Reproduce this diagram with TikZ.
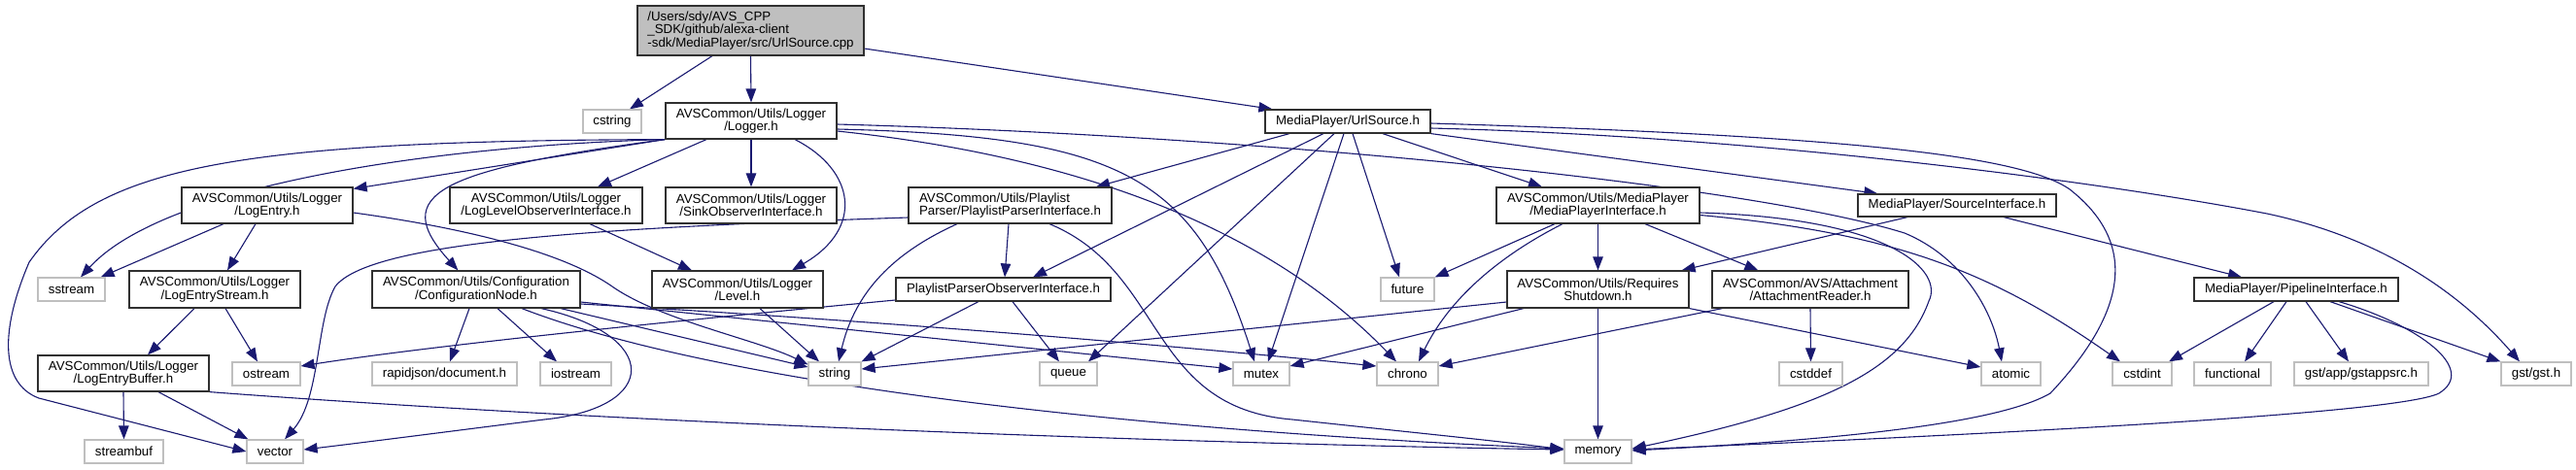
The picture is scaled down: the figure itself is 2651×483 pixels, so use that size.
\documentclass[tikz,border=0pt]{standalone}
\usepackage{fontspec}
\setmainfont{Liberation Sans}
\usetikzlibrary{arrows.meta,calc}
\definecolor{edgec}{HTML}{191970}
\definecolor{sysc}{HTML}{BFBFBF}
\definecolor{rootfill}{HTML}{BFBFBF}
\definecolor{boxc}{HTML}{303030}
\newcommand\dfont{\fontsize{13.3}{13.4}\selectfont}
\pgfdeclarelayer{bg}
\pgfdeclarelayer{paper}
\pgfsetlayers{paper,bg,main}
\begin{document}
\begin{tikzpicture}[x=1pt,y=-1pt,
  box/.style={draw=boxc, line width=1.2pt, fill=white, inner sep=0pt, font=\dfont, align=center},
  sysbox/.style={draw=sysc, line width=1.2pt, fill=white, inner sep=0pt, font=\dfont},
  rootbox/.style={box, fill=rootfill, align=left},
  e/.style={draw=edgec, line width=1.1pt, -{Triangle[length=14pt,width=10.5pt]}}
]
\begin{pgfonlayer}{paper}
\fill[white] (0,0) rectangle (2651,483);
\end{pgfonlayer}
\useasboundingbox (0,0) rectangle (2651,483);

% nodes
\node[rootbox, minimum width=233, minimum height=51] (root) at (772.5,31.5) {/Users/sdy/AVS\_CPP\\\_SDK/github/alexa-client\\-sdk/MediaPlayer/src/UrlSource.cpp};
\node[sysbox, minimum width=60, minimum height=24] (cstring) at (630,125) {cstring};
\node[box, minimum width=176, minimum height=37] (logger) at (773,124.5) {AVSCommon/Utils/Logger\\/Logger.h};
\node[box, minimum width=170, minimum height=24] (urlsrch) at (1387,125) {MediaPlayer/UrlSource.h};
\node[box, minimum width=176, minimum height=37] (logentry) at (275,211.5) {AVSCommon/Utils/Logger\\/LogEntry.h};
\node[box, minimum width=198, minimum height=37] (loglevelobs) at (562,211.5) {AVSCommon/Utils/Logger\\/LogLevelObserverInterface.h};
\node[box, minimum width=176, minimum height=37] (sinkobs) at (773,211.5) {AVSCommon/Utils/Logger\\/SinkObserverInterface.h};
\node[box, align=left, minimum width=209, minimum height=37] (ppi) at (1039.5,211.5) {AVSCommon/Utils/Playlist\\Parser/PlaylistParserInterface.h};
\node[box, minimum width=209, minimum height=37] (mpi) at (1644.5,211.5) {AVSCommon/Utils/MediaPlayer\\/MediaPlayerInterface.h};
\node[box, minimum width=204, minimum height=23] (srcif) at (2014,211.5) {MediaPlayer/SourceInterface.h};
\node[sysbox, minimum width=69, minimum height=24] (sstream) at (73.5,298) {sstream};
\node[box, minimum width=176, minimum height=38] (logentrystream) at (221,298) {AVSCommon/Utils/Logger\\/LogEntryStream.h};
\node[box, minimum width=214, minimum height=38] (confnode) at (490,298) {AVSCommon/Utils/Configuration\\/ConfigurationNode.h};
\node[box, minimum width=176, minimum height=38] (level) at (759,298) {AVSCommon/Utils/Logger\\/Level.h};
\node[box, minimum width=221, minimum height=24] (ppo) at (1032.5,298) {PlaylistParserObserverInterface.h};
\node[sysbox, minimum width=55, minimum height=24] (future) at (1448.5,298) {future};
\node[box, minimum width=187, minimum height=38] (reqshut) at (1644.5,298) {AVSCommon/Utils/Requires\\Shutdown.h};
\node[box, minimum width=202, minimum height=38] (attach) at (1863,298) {AVSCommon/AVS/Attachment\\/AttachmentReader.h};
\node[box, minimum width=210, minimum height=24] (pipeline) at (2363,298) {MediaPlayer/PipelineInterface.h};
\node[box, minimum width=176, minimum height=37] (logentrybuffer) at (127,384.5) {AVSCommon/Utils/Logger\\/LogEntryBuffer.h};
\node[sysbox, minimum width=70, minimum height=24] (ostream) at (274,385) {ostream};
\node[sysbox, minimum width=149, minimum height=24] (rapidjson) at (457.5,385) {rapidjson/document.h};
\node[sysbox, minimum width=73, minimum height=24] (iostream) at (592.5,385) {iostream};
\node[sysbox, minimum width=54, minimum height=24] (string) at (859,385) {string};
\node[sysbox, minimum width=59, minimum height=24] (queue) at (1099.5,385) {queue};
\node[sysbox, minimum width=58, minimum height=24] (mutex) at (1298,385) {mutex};
\node[sysbox, minimum width=63, minimum height=24] (chrono) at (1448.5,385) {chrono};
\node[sysbox, minimum width=65, minimum height=24] (cstddef) at (1863.5,385) {cstddef};
\node[sysbox, minimum width=61, minimum height=24] (atomic) at (2069.5,385) {atomic};
\node[sysbox, minimum width=61, minimum height=24] (cstdint) at (2204.5,385) {cstdint};
\node[sysbox, minimum width=79, minimum height=24] (functional) at (2297.5,385) {functional};
\node[sysbox, minimum width=138, minimum height=24] (gstappsrc) at (2430,385) {gst/app/gstappsrc.h};
\node[sysbox, minimum width=72, minimum height=24] (gst) at (2610,385) {gst/gst.h};
\node[sysbox, minimum width=81, minimum height=24] (streambuf) at (127.5,465) {streambuf};
\node[sysbox, minimum width=58, minimum height=24] (vector) at (283,465) {vector};
\node[sysbox, minimum width=69, minimum height=24] (memory) at (1644.5,465) {memory};

\begin{pgfonlayer}{bg}
% root
\draw[e] ($(root.south)+(-39.5,0)$) -- ($(cstring.north)+(18,0)$);
\draw[e] (root.south) -- (logger.north);
\draw[e] ($(root.east)+(0,18.5)$) -- ($(urlsrch.north west)+(8,0)$);
% Logger.h
\draw[e] (logger.south west) -- ($(logentry.north east)+(0,2)$);
\draw[e] (logger.south west) .. controls (450,150) and (170,190) .. ($(sstream.north)+(9.5,0)$);
\draw[e] (logger.south west) .. controls (250,145) and (100,170) .. (30,270) .. controls (0,340) and (0,395) .. (40,410) -- (vector.west);
\draw[e] (logger.south west) .. controls (450,175) and (400,200) .. ($(confnode.north west)+(89,0)$);
\draw[e] ($(logger.south)+(-46,0)$) -- ($(loglevelobs.north)+(53,0)$);
\draw[e] (logger.south) -- (sinkobs.north);
\draw[e] ($(logger.south)+(45,0)$) .. controls (880,175) and (890,235) .. ($(level.north)+(56,0)$);
\draw[e] ($(logger.east)+(0,8.5)$) .. controls (1150,140) and (1230,180) .. ($(mutex.north)+(-7,0)$);
\draw[e] ($(logger.east)+(0,10.5)$) .. controls (1100,160) and (1300,230) .. ($(chrono.north)+(-11.5,0)$);
\draw[e] ($(logger.east)+(0,3.5)$) .. controls (1300,140) and (1800,190) .. (1960,240) .. controls (2020,265) and (2050,320) .. ($(atomic.north)+(-9.5,0)$);
% LogEntry.h
\draw[e] ($(logentry.south)+(-45,0)$) -- ($(sstream.north east)+(-5,0)$);
\draw[e] ($(logentry.south)+(-12,0)$) -- ($(logentrystream.north)+(13,0)$);
\draw[e] ($(logentry.east)+(0,7.5)$) .. controls (480,235) and (580,260) .. (630,295) .. controls (680,330) and (780,350) .. ($(string.north west)+(0,3)$);
% LogEntryStream / Buffer
\draw[e] ($(logentrystream.south)+(-21,0)$) -- ($(logentrybuffer.north)+(25,0)$);
\draw[e] ($(logentrystream.south)+(11,0)$) -- ($(ostream.north)+(-9,0)$);
\draw[e] (logentrybuffer.south) -- (streambuf.north);
\draw[e] ($(logentrybuffer.south)+(36,0)$) -- ($(vector.north west)+(2,0)$);
\draw[e] (logentrybuffer.south east) .. controls (700,440) and (1300,458) .. ($(memory.west)+(0,-2)$);
% LogLevelObserver, Level
\draw[e] ($(loglevelobs.south)+(45,0)$) -- ($(level.north)+(-47,0)$);
\draw[e] ($(level.south)+(23,0)$) -- ($(string.north)+(-16,0)$);
% ConfigurationNode
\draw[e] ($(confnode.south)+(-7,0)$) -- ($(rapidjson.north)+(5.5,0)$);
\draw[e] ($(confnode.south)+(22,0)$) -- ($(iostream.north)+(-19.5,0)$);
\draw[e] ($(confnode.south)+(87,0)$) -- ($(string.west)+(0,-7)$);
\draw[e] ($(confnode.east)+(0,13)$) -- ($(mutex.west)+(0,-5)$);
\draw[e] ($(confnode.east)+(0,15)$) .. controls (900,330) and (1200,355) .. ($(chrono.west)+(0,-8)$);
\draw[e] ($(confnode.south)+(67,0)$) .. controls (680,345) and (680,420) .. (560,432) .. controls (480,442) and (380,455) .. ($(vector.east)+(0,-2)$);
\draw[e] ($(confnode.south)+(47,0)$) .. controls (750,400) and (1200,445) .. ($(memory.west)+(0,-3)$);
% PlaylistParserInterface
\draw[e] ($(ppi.south)+(-1.5,0)$) -- ($(ppo.north)+(1.5,0)$);
\draw[e] ($(ppi.south)+(-54.5,0)$) .. controls (920,260) and (880,300) .. ($(string.north)+(4,0)$);
\draw[e] ($(ppi.south)+(40.5,0)$) .. controls (1200,280) and (1180,420) .. (1330,432) .. controls (1450,445) and (1550,455) .. ($(memory.west)+(0,-2)$);
\draw[e] ($(ppi.west)+(0,12.5)$) .. controls (600,235) and (380,250) .. (345,295) .. controls (325,330) and (330,410) .. ($(vector.north)+(10,0)$);
% PlaylistParserObserverInterface
\draw[e] ($(ppo.south)+(-25.5,0)$) -- (string.north east);
\draw[e] ($(ppo.south)+(9.5,0)$) -- ($(queue.north)+(-9.5,0)$);
\draw[e] ($(ppo.west)+(0,11)$) .. controls (700,330) and (450,355) .. ($(ostream.east)+(0,-8)$);
% UrlSource.h
\draw[e] ($(urlsrch.south)+(-60,0)$) -- ($(ppi.north)+(88.5,0)$);
\draw[e] ($(urlsrch.south)+(-25,0)$) -- ($(ppo.north)+(30.5,0)$);
\draw[e] ($(urlsrch.south)+(-14,0)$) -- ($(queue.north)+(20.5,0)$);
\draw[e] ($(urlsrch.south)+(-4,0)$) -- ($(mutex.north)+(7,0)$);
\draw[e] ($(urlsrch.south)+(5,0)$) -- ($(future.north)+(-8.5,0)$);
\draw[e] ($(urlsrch.south)+(36,0)$) -- ($(mpi.north)+(-57.5,0)$);
\draw[e] (urlsrch.south east) -- ($(srcif.north west)+(21,0)$);
\draw[e] ($(urlsrch.east)+(0,7)$) .. controls (1800,140) and (2150,185) .. (2333,220) .. controls (2450,245) and (2530,300) .. ($(gst.north)+(-17,0)$);
\draw[e] ($(urlsrch.east)+(0,2)$) .. controls (1900,140) and (2080,160) .. (2130,195) .. controls (2200,250) and (2190,320) .. (2110,405) .. controls (2050,440) and (1850,455) .. ($(memory.east)+(0,-1)$);
% MediaPlayerInterface
\draw[e] ($(mpi.south)+(-44.5,0)$) -- (future.north east);
\draw[e] ($(mpi.south)+(-36.5,0)$) .. controls (1540,265) and (1490,310) .. ($(chrono.north)+(11.5,0)$);
\draw[e] (mpi.south) -- (reqshut.north);
\draw[e] ($(mpi.south)+(48.5,0)$) -- ($(attach.north west)+(48,0)$);
\draw[e] ($(mpi.east)+(0,7.5)$) .. controls (1950,225) and (2000,280) .. (1985,310) .. controls (1960,380) and (1880,420) .. ($(memory.east)+(0,-3)$);
\draw[e] ($(mpi.east)+(0,10)$) .. controls (1950,240) and (2050,280) .. ($(cstdint.north)+(-22.5,0)$);
% RequiresShutdown
\draw[e] ($(reqshut.west)+(0,13)$) -- ($(string.east)+(0,-5)$);
\draw[e] ($(reqshut.south)+(-76.5,0)$) -- ($(mutex.east)+(0,-8)$);
\draw[e] (reqshut.south) -- (memory.north);
\draw[e] (reqshut.south east) -- ($(atomic.west)+(0,-7)$);
% SourceInterface
\draw[e] ($(srcif.south)+(-51,0)$) -- ($(reqshut.north east)+(-8,0)$);
\draw[e] ($(srcif.south)+(48,0)$) -- ($(pipeline.north)+(-56,0)$);
% AttachmentReader
\draw[e] (attach.south) -- (cstddef.north);
\draw[e] ($(attach.south west)+(11,0)$) -- ($(chrono.east)+(0,-8)$);
% PipelineInterface
\draw[e] ($(pipeline.south)+(-23,0)$) -- ($(cstdint.north)+(27.5,0)$);
\draw[e] ($(pipeline.south)+(-10,0)$) -- ($(functional.north)+(12.5,0)$);
\draw[e] ($(pipeline.south)+(10,0)$) -- ($(gstappsrc.north)+(-13,0)$);
\draw[e] ($(pipeline.south)+(35,0)$) -- (gst.north west);
\draw[e] ($(pipeline.south)+(44,0)$) .. controls (2490,335) and (2550,380) .. (2510,405) .. controls (2470,425) and (2100,445) .. ($(memory.east)+(0,-2)$);
\end{pgfonlayer}
\end{tikzpicture}
\end{document}
